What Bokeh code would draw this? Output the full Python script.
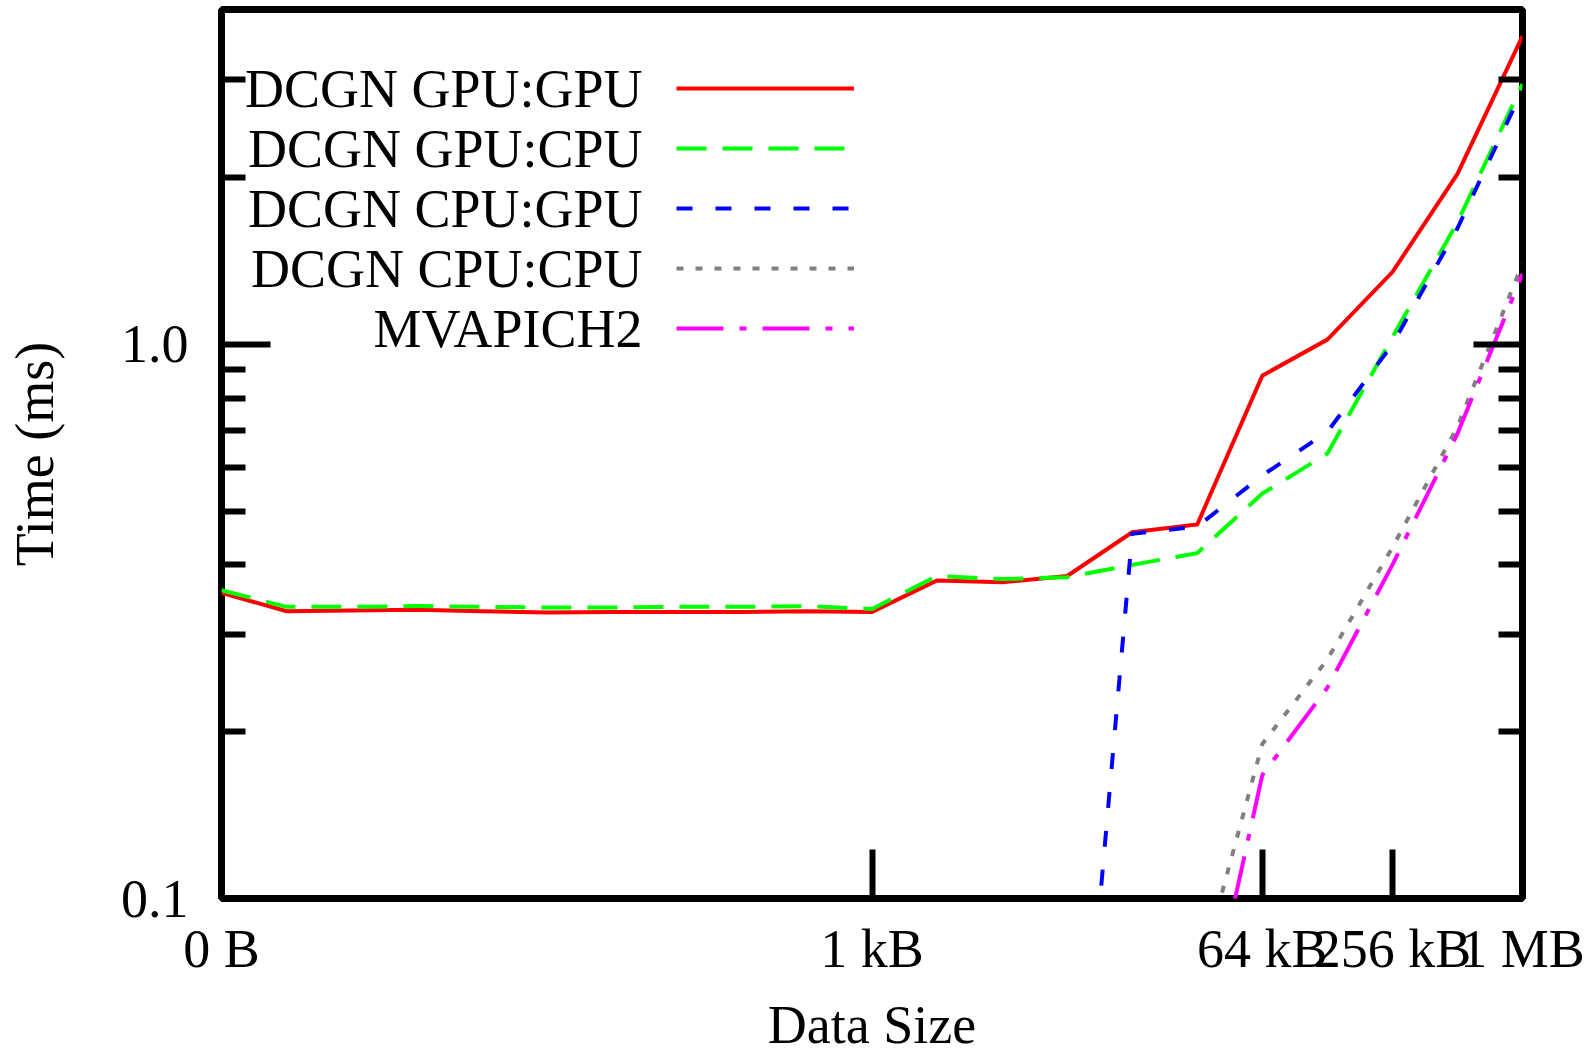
from bokeh.plotting import figure
from bokeh.models import (Range1d, LogAxis, FixedTicker, CustomJSTickFormatter, Legend,
                          LegendItem, Label, PrintfTickFormatter)
from bokeh.core.properties import value
from bokeh.embed import file_html
from bokeh.resources import INLINE

nan = float("nan")

# ---------------- data ----------------
sizes = [1, 2, 4, 8, 16, 32, 64, 128, 256, 512, 1024, 2048, 4096, 8192,
         16384, 32768, 65536, 131072, 262144, 524288, 1048576]

gpu_gpu = [0.356, 0.330, 0.331, 0.332, 0.330, 0.328, 0.329, 0.329, 0.329, 0.330, 0.329,
           0.375, 0.372, 0.382, 0.458, 0.473, 0.878, 1.02, 1.35, 2.03, 3.60]
gpu_cpu = [0.360, 0.336, 0.336, 0.337, 0.336, 0.335, 0.335, 0.336, 0.336, 0.337, 0.333,
           0.382, 0.377, 0.380, 0.400, 0.420, 0.538, 0.635, 1.03, 1.66, 2.95]
cpu_gpu = [nan, nan, nan, nan, nan, nan, nan, nan, nan, nan, nan,
           nan, nan, 0.021, 0.455, 0.469, 0.580, 0.695, 1.00, 1.62, 2.88]
cpu_cpu = [nan, nan, nan, nan, nan, nan, nan, nan, nan, nan, nan,
           nan, nan, nan, nan, 0.070, 0.190, 0.270, 0.430, 0.710, 1.40]
mvapich2 = [nan, nan, nan, nan, nan, nan, nan, nan, nan, nan, nan,
            nan, nan, nan, nan, 0.049, 0.167, 0.240, 0.400, 0.690, 1.34]

series_names = ["DCGN GPU:GPU", "DCGN GPU:CPU", "DCGN CPU:GPU", "DCGN CPU:CPU", "MVAPICH2"]
series_values = [gpu_gpu, gpu_cpu, cpu_gpu, cpu_cpu, mvapich2]
series_colors = ["#ff0000", "#00ff00", "#0000ff", "#808080", "#ff00ff"]
series_dashes = ["solid", "30 16", "16 23", "7 12", "47 16 7 16"]

x_ticks = [1, 1024, 65536, 262144, 1048576]
x_tick_labels = ["0 B", "1 kB", "64 kB", "256 kB", "1 MB"]
y_ticks = [0.1, 1.0]
y_minor_ticks = [0.2, 0.3, 0.4, 0.5, 0.6, 0.7, 0.8, 0.9, 2.0, 3.0]

x_title = "Data Size"
y_title = "Time (ms)"

# ---------------- layout ----------------
W, H = 1589, 1057
FL, FR, FT, FB = 221, 1522, 9, 898
FONT = "Liberation Serif"
FS = "54px"

p = figure(width=W, height=H, x_axis_type="log", y_axis_type="log",
           x_range=Range1d(sizes[0], sizes[-1]), y_range=Range1d(0.1, 4.02),
           output_backend="svg", toolbar_location=None,
           min_border_left=FL, min_border_right=W - FR,
           min_border_top=FT, min_border_bottom=H - FB)
p.xgrid.visible = False
p.ygrid.visible = False
p.background_fill_color = "white"
p.border_fill_color = "white"
p.outline_line_color = "black"
p.outline_line_width = 7
p.outline_line_alpha = 1.0

renderers = []
for vals, col, dash in zip(series_values, series_colors, series_dashes):
    r = p.line(sizes, vals, line_color=col, line_width=4, line_dash=dash,
               line_join="miter")
    renderers.append(r)

# x axis
xa = p.xaxis[0]
xa.ticker = FixedTicker(ticks=x_ticks, minor_ticks=[])
xa.major_label_overrides = dict(zip(x_ticks, x_tick_labels))
xa.axis_line_color = None
xa.major_tick_in = 49
xa.major_tick_out = 0
xa.major_tick_line_width = 6
xa.minor_tick_line_color = None
xa.major_label_standoff = 20
xa.major_label_text_font = FONT
xa.major_label_text_font_size = FS
xa.major_label_text_color = "black"
xa.axis_label = x_title
xa.axis_label_standoff = 13
xa.axis_label_text_font = FONT
xa.axis_label_text_font_size = FS
xa.axis_label_text_font_style = "normal"
xa.axis_label_text_color = "black"

# y axis (left)
ya = p.yaxis[0]
ya.ticker = FixedTicker(ticks=y_ticks, minor_ticks=y_minor_ticks)
ya.formatter = PrintfTickFormatter(format="%.1f")
ya.axis_line_color = None
ya.major_tick_in = 49
ya.major_tick_out = 0
ya.minor_tick_in = 24
ya.minor_tick_out = 0
ya.major_tick_line_width = 6
ya.minor_tick_line_width = 6
ya.major_label_standoff = 33
ya.major_label_text_font = FONT
ya.major_label_text_font_size = FS
ya.major_label_text_color = "black"
ya.axis_label = y_title
ya.axis_label_standoff = 53
ya.axis_label_text_font = FONT
ya.axis_label_text_font_size = FS
ya.axis_label_text_font_style = "normal"
ya.axis_label_text_color = "black"

# y axis mirror (right): ticks only
ra = LogAxis(ticker=FixedTicker(ticks=y_ticks, minor_ticks=y_minor_ticks),
             formatter=CustomJSTickFormatter(code="return ''"))
ra.axis_line_color = None
ra.major_tick_in = 49
ra.major_tick_out = 0
ra.minor_tick_in = 24
ra.minor_tick_out = 0
ra.major_tick_line_width = 6
ra.minor_tick_line_width = 6
ra.major_label_standoff = 0
p.add_layout(ra, "right")

# legend: line samples (Legend) with names right-aligned on their left (Labels)
ROW = 60
items = [LegendItem(label=value(""), renderers=[r]) for r in renderers]
leg = Legend(items=items, location=(455, 540), orientation="vertical",
             glyph_width=178, glyph_height=ROW, label_height=ROW, spacing=0,
             padding=0, label_standoff=0, label_text_font_size="8px",
             border_line_color=None, background_fill_alpha=0.0)
p.add_layout(leg, "center")

top_row_from_bottom = 810
for i, name in enumerate(series_names):
    p.add_layout(Label(x=421, y=top_row_from_bottom - ROW * i,
                       x_units="screen", y_units="screen", text=name,
                       text_align="right", text_baseline="middle",
                       text_font=FONT, text_font_size=FS, text_color="black"))

open("out.html", "w").write(file_html(p, INLINE))
